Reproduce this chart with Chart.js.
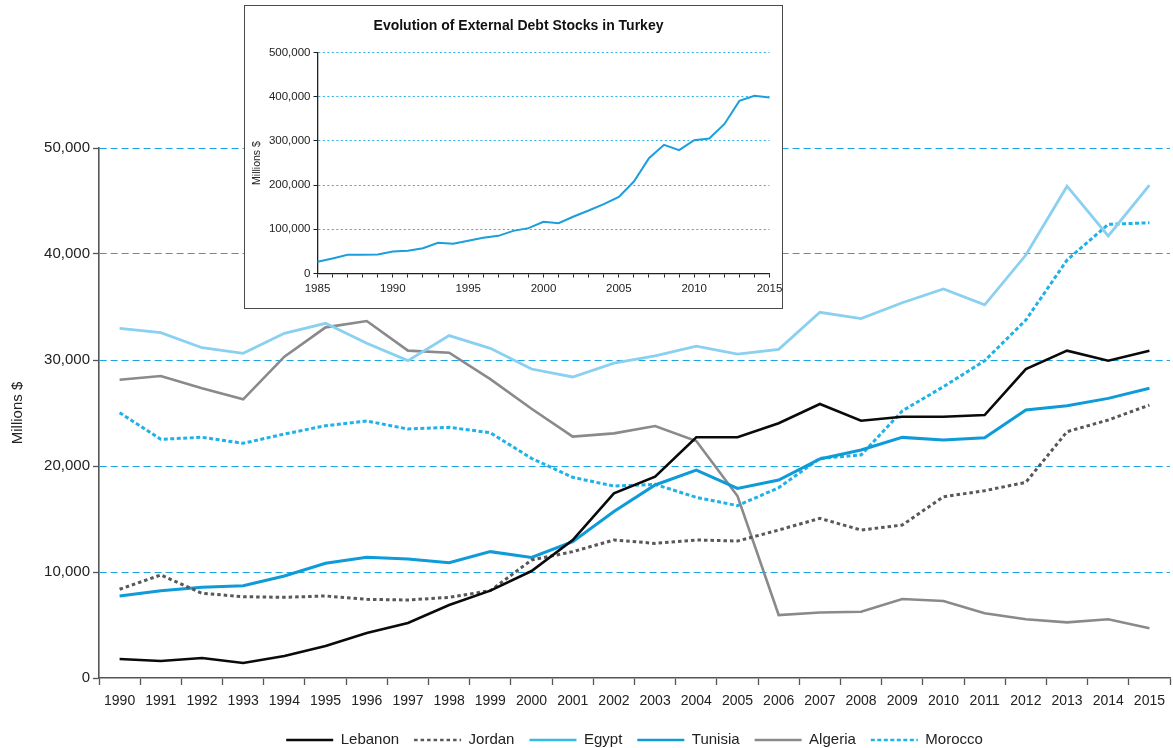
<!DOCTYPE html>
<html>
<head>
<meta charset="utf-8">
<title>External debt stocks</title>
<script src="https://cdn.jsdelivr.net/npm/chart.js@4/dist/chart.umd.min.js"></script>
<style>
  html, body { margin: 0; padding: 0; background: #fff; overflow: hidden; }
  #wrap { position: relative; width: 1173px; height: 748px; }
  #main { position: absolute; left: 0; top: 0; }
  #inset { position: absolute; left: 244px; top: 5px; width: 537px; height: 302px;
           border: 1.5px solid #4a4a4a; background: #fff; }
  #turkey { display: block; }
</style>
</head>
<body>
<div id="wrap">
  <canvas id="main" width="1173" height="748"></canvas>
  <div id="inset"><canvas id="turkey" width="537" height="302"></canvas></div>
</div>
<script>
// ---- Data: external debt stocks, millions of US$ ----
const years = ['1990','1991','1992','1993','1994','1995','1996','1997','1998','1999','2000','2001','2002',
               '2003','2004','2005','2006','2007','2008','2009','2010','2011','2012','2013','2014','2015'];

const lebanon = [1790,1600,1890,1420,2080,3020,4250,5190,6890,8240,10090,13020,17420,
                 18990,22710,22710,24030,25850,24270,24650,24650,24810,29150,30880,29930,30880];
const jordan  = [8370,9720,7990,7670,7610,7740,7420,7360,7610,8240,11130,11920,13020,
                 12700,13020,12920,13960,15060,13960,14430,17100,17670,18460,23240,24340,25750];
const egypt   = [32990,32580,31160,30630,32520,33460,31580,29940,32300,31100,29150,28400,29700,
                 30400,31300,30550,31000,34500,33900,35400,36700,35200,39900,46400,41700,46500];
const tunisia = [7740,8240,8550,8710,9620,10820,11380,11230,10880,11920,11380,12860,15700,
                 18210,19620,17890,18680,20660,21510,22700,22450,22670,25280,25690,26380,27330];
const algeria = [28140,28490,27330,26290,30310,33080,33680,30880,30690,28200,25400,22770,23080,
                 23770,22360,17170,5940,6180,6250,7450,7260,6100,5540,5250,5540,4690];
const morocco = [25030,22520,22710,22140,23020,23800,24250,23490,23650,23140,20720,18930,18110,
                 18270,17040,16260,17950,20720,21040,25200,27480,29930,33770,39430,42800,42950];

const mainTicks = [0, 10000, 20000, 30000, 40000, 50000];

const turkeyYears = ['1985','1986','1987','1988','1989','1990','1991','1992','1993','1994','1995',
                     '1996','1997','1998','1999','2000','2001','2002','2003','2004','2005','2006',
                     '2007','2008','2009','2010','2011','2012','2013','2014','2015'];
const turkeyDebt = [26400,34000,42200,42200,43000,49800,51300,57300,69400,67100,73900,
                    80700,85200,96500,102600,116900,113900,129000,142500,156900,173400,208100,
                    260900,291100,279000,301600,305400,337800,390600,401900,398200];
const turkeyTicks = [0, 100000, 200000, 300000, 400000, 500000];

// ---- Shared look ----
Chart.defaults.font.family = "'Liberation Sans', Arial, Helvetica, sans-serif";
Chart.defaults.color = '#222';
Chart.defaults.animation = false;

const fmt = v => Number(v).toLocaleString('en-US');
const legendSwatch = { Egypt: '#33baea' };

function line(label, data, color, width, dash) {
  return { label, data, borderColor: color, backgroundColor: color, borderWidth: width,
           borderDash: dash || [], pointRadius: 0, pointHoverRadius: 0, tension: 0,
           fill: false, borderJoinStyle: 'miter', borderCapStyle: 'butt' };
}

// ---- Main chart ----
new Chart(document.getElementById('main'), {
  type: 'line',
  data: {
    labels: years,
    datasets: [
      line('Lebanon', lebanon, '#0a0a0a', 2.6),
      line('Jordan',  jordan,  '#58585a', 3, [3.5, 3]),
      line('Egypt',   egypt,   '#8ad0f0', 2.8),
      line('Tunisia', tunisia, '#0e9bd8', 3),
      line('Algeria', algeria, '#8a8a8c', 2.6),
      line('Morocco', morocco, '#1eb2e8', 3, [4, 2.5])
    ]
  },
  options: {
    responsive: false,
    layout: { padding: { top: 148, left: 0, right: 0, bottom: -9.5 } },
    plugins: {
      tooltip: { enabled: false },
      legend: {
        position: 'bottom',
        fullSize: false,
        labels: {
          font: { size: 15 },
          color: '#222',
          usePointStyle: true,
          pointStyle: 'line',
          pointStyleWidth: 47,
          padding: 15,
          generateLabels(chart) {
            const items = Chart.defaults.plugins.legend.labels.generateLabels(chart);
            items.forEach(it => {
              const ds = chart.data.datasets[it.datasetIndex];
              it.strokeStyle = legendSwatch[it.text] || ds.borderColor;
              it.lineDash = ds.borderDash;
              it.lineWidth = 2.4;
            });
            return items;
          }
        }
      }
    },
    scales: {
      x: {
        type: 'category',
        offset: true,
        grid: { display: true, drawOnChartArea: false, offset: true, drawTicks: true,
                tickLength: 7, tickColor: '#555', tickWidth: 1.3 },
        border: { display: true, color: '#555', width: 1.6 },
        ticks: { font: { size: 14 }, color: '#222', padding: 8, autoSkip: false, maxRotation: 0 },
        afterFit(scale) { scale.height = 39.5; }
      },
      y: {
        type: 'linear',
        min: 0, max: 50000,
        afterBuildTicks(scale) { scale.ticks = mainTicks.map(v => ({ value: v })); },
        grid: {
          color: c => (c.tick && c.tick.value === 0) ? 'rgba(0,0,0,0)' : '#1aa6e4',
          lineWidth: 1,
          drawTicks: true, tickLength: 6, tickColor: '#555', tickWidth: 1.3, tickBorderDash: []
        },
        border: { display: true, color: '#555', width: 1.6, dash: [7, 4] },
        ticks: { font: { size: 15 }, color: '#222', padding: 3, callback: v => fmt(v) },
        title: { display: true, text: 'Millions $', font: { size: 15 }, color: '#222',
                 padding: { top: 9, bottom: 0 } },
        afterFit(scale) { scale.width = 99; }
      }
    }
  }
});

// ---- Inset: Turkey ----
// A little left padding nudges the centred title right; the y scale keeps the plot's left edge fixed.
const insetLeft = 10;
new Chart(document.getElementById('turkey'), {
  type: 'line',
  data: {
    labels: turkeyYears,
    datasets: [ line('Turkey', turkeyDebt, '#1a9fdc', 2) ]
  },
  options: {
    responsive: false,
    layout: { padding: { top: 0, left: insetLeft, right: 0, bottom: 0 } },
    plugins: {
      tooltip: { enabled: false },
      legend: { display: false },
      title: {
        display: true,
        text: 'Evolution of External Debt Stocks in Turkey',
        font: { size: 14, weight: 'bold' },
        color: '#111',
        padding: { top: 12.1, bottom: 17.6 }
      }
    },
    scales: {
      x: {
        type: 'category',
        offset: false,
        grid: { display: true, drawOnChartArea: false, drawTicks: true,
                tickLength: 4, tickColor: '#222', tickWidth: 1 },
        border: { display: true, color: '#222', width: 1.3 },
        ticks: { font: { size: 11.5 }, color: '#222', padding: 4, autoSkip: false, maxRotation: 0,
                 callback(v, i) { const y = turkeyYears[i]; return Number(y) % 5 === 0 ? y : ''; } },
        afterFit(scale) { scale.height = 34.5; scale.paddingRight = 12.5; }
      },
      y: {
        type: 'linear',
        min: 0, max: 500000,
        afterBuildTicks(scale) { scale.ticks = turkeyTicks.map(v => ({ value: v })); },
        grid: {
          color: c => (c.tick && c.tick.value === 0) ? 'rgba(0,0,0,0)' : '#2fb0e6',
          lineWidth: 1,
          drawTicks: true, tickLength: 4, tickColor: '#222', tickWidth: 1, tickBorderDash: []
        },
        border: { display: true, color: '#222', width: 1.3, dash: [2, 2.5] },
        ticks: { font: { size: 11.5 }, color: '#222', padding: 3, callback: v => fmt(v) },
        title: { display: true, text: 'Millions $', font: { size: 10.5 }, color: '#222',
                 padding: { top: 6.2 - insetLeft, bottom: 0 } },
        afterFit(scale) { scale.width = 72.5 - insetLeft; }
      }
    }
  }
});
</script>
</body>
</html>
